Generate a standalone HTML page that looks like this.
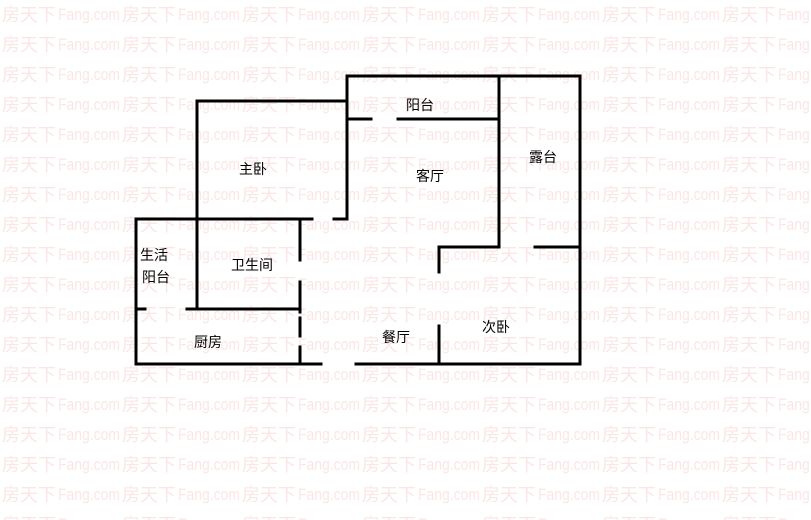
<!DOCTYPE html>
<html><head><meta charset="utf-8"><style>
html,body{margin:0;width:811px;height:520px;overflow:hidden}
body{background:#fff;position:relative;font-family:"Liberation Sans","Noto Sans CJK SC",sans-serif}
.wm{position:absolute;left:0;top:0;width:811px;height:520px;overflow:hidden}
.row{position:absolute;left:2px;white-space:nowrap;color:#fbe6e6;font-size:18px;line-height:30px;font-weight:normal}
.row span{display:inline-block;width:120px;vertical-align:top;white-space:nowrap;position:relative}
.row i{font-style:normal;font-size:17px;position:absolute;left:56px;top:0;transform:scaleX(0.82);transform-origin:left center}
</style></head><body>
<div class="wm" id="wm"></div>
<script>
var wm=document.getElementById('wm'),h='';
for(var r=0;r<18;r++){var s='<div class="row" style="top:'+(0+r*30)+'px">';for(var c=0;c<7;c++)s+='<span>房天下<i>Fang.com</i></span>';h+=s+'</div>';}
wm.innerHTML=h;
</script>
<svg width="811" height="520" style="position:absolute;left:0;top:0">
<g stroke="#000" stroke-width="3" fill="none" stroke-linecap="square">
<line x1="347" y1="76" x2="580" y2="76"/>
<line x1="580" y1="76" x2="580" y2="364"/>
<line x1="347" y1="76" x2="347" y2="219"/>
<line x1="197" y1="101" x2="347" y2="101"/>
<line x1="197" y1="101" x2="197" y2="309"/>
<line x1="347" y1="119" x2="371" y2="119"/>
<line x1="398" y1="119" x2="499" y2="119"/>
<line x1="499" y1="76" x2="499" y2="247"/>
<line x1="136" y1="219" x2="312" y2="219"/>
<line x1="334" y1="219" x2="347" y2="219"/>
<line x1="136" y1="219" x2="136" y2="364"/>
<line x1="300" y1="219" x2="300" y2="260"/>
<line x1="300" y1="282" x2="300" y2="312"/>
<line x1="300" y1="318" x2="300" y2="336"/>
<line x1="300" y1="347" x2="300" y2="364"/>
<line x1="136" y1="309" x2="145" y2="309"/>
<line x1="187" y1="309" x2="300" y2="309"/>
<line x1="136" y1="364" x2="321" y2="364"/>
<line x1="356" y1="364" x2="580" y2="364"/>
<line x1="439" y1="247" x2="499" y2="247"/>
<line x1="535" y1="247" x2="580" y2="247"/>
<line x1="439" y1="247" x2="439" y2="272"/>
<line x1="439" y1="326" x2="439" y2="364"/>
</g>
<g font-size="14" fill="#000" text-anchor="middle" font-family="Liberation Sans, Noto Sans CJK SC, sans-serif">
<text x="420" y="110">阳台</text>
<text x="430" y="181">客厅</text>
<text x="543" y="162">露台</text>
<text x="253" y="174">主卧</text>
<text x="154" y="260">生活</text>
<text x="156" y="282">阳台</text>
<text x="252" y="270">卫生间</text>
<text x="208" y="347">厨房</text>
<text x="396" y="342">餐厅</text>
<text x="496" y="332">次卧</text>
</g>
</svg>
</body></html>
